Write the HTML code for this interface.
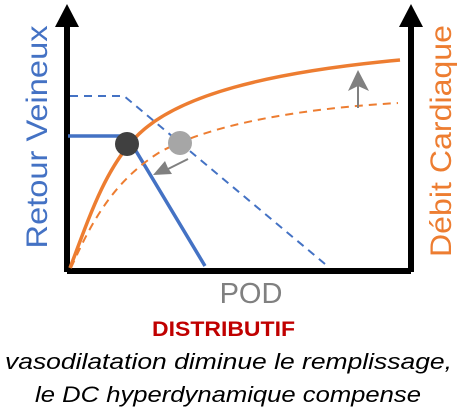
<!DOCTYPE html>
<html><head><style>
body{margin:0;width:459px;height:414px;background:#fff;overflow:hidden;font-family:"Liberation Sans",sans-serif}
</style></head><body>
<svg width="459" height="414" viewBox="0 0 459 414" xmlns="http://www.w3.org/2000/svg" style="position:absolute;left:0;top:0">
<text transform="translate(47,137) rotate(-90)" text-anchor="middle" font-family="Liberation Sans,sans-serif" font-size="30" fill="#4472C4" textLength="223" lengthAdjust="spacingAndGlyphs">Retour Veineux</text>
<text transform="translate(451,141) rotate(-90)" text-anchor="middle" font-family="Liberation Sans,sans-serif" font-size="30" fill="#ED7D31" textLength="232" lengthAdjust="spacingAndGlyphs">Débit Cardiaque</text>
<path d="M67,272 V20 M67,271 H411 M411,272 V20" stroke="#000" stroke-width="6" fill="none"/>
<polygon points="55,27 67,4 79,27" fill="#000"/>
<polygon points="399,27 411,4 423,27" fill="#000"/>
<polyline points="70,96 124,96 325,264" stroke="#4472C4" stroke-width="2" stroke-dasharray="8,6" fill="none"/>
<polyline points="68,136 127,136 205,266" stroke="#4472C4" stroke-width="3.5" fill="none"/>
<path d="M70,268 C90,215 105,170 135,138 C175,95 270,72 400,60" stroke="#ED7D31" stroke-width="3.5" fill="none"/>
<path d="M71,268 C92,220 115,180 160,152 C215,122 310,108 398,103" stroke="#ED7D31" stroke-width="2" stroke-dasharray="8,6" fill="none"/>
<circle cx="127" cy="144" r="12" fill="#404040"/>
<circle cx="180" cy="143" r="12" fill="#A6A6A6"/>
<line x1="188" y1="159" x2="166" y2="170" stroke="#808080" stroke-width="2"/>
<polygon points="153,175 165,161 168,168 172,174" fill="#808080"/>
<line x1="358" y1="108" x2="358" y2="85" stroke="#808080" stroke-width="2"/>
<polygon points="348,91 358,70 369,91 358,86" fill="#808080"/>
<text x="251" y="303" text-anchor="middle" font-family="Liberation Sans,sans-serif" font-size="29" fill="#808080">POD</text>
<text x="152" y="336" font-family="Liberation Sans,sans-serif" font-size="21" font-weight="bold" fill="#C00000" textLength="143" lengthAdjust="spacingAndGlyphs">DISTRIBUTIF</text>
<text x="5" y="369" font-family="Liberation Sans,sans-serif" font-size="22" font-style="italic" fill="#000" textLength="447" lengthAdjust="spacingAndGlyphs">vasodilatation diminue le remplissage,</text>
<text x="35" y="402" font-family="Liberation Sans,sans-serif" font-size="22" font-style="italic" fill="#000" textLength="386" lengthAdjust="spacingAndGlyphs">le DC hyperdynamique compense</text>
</svg>
</body></html>
